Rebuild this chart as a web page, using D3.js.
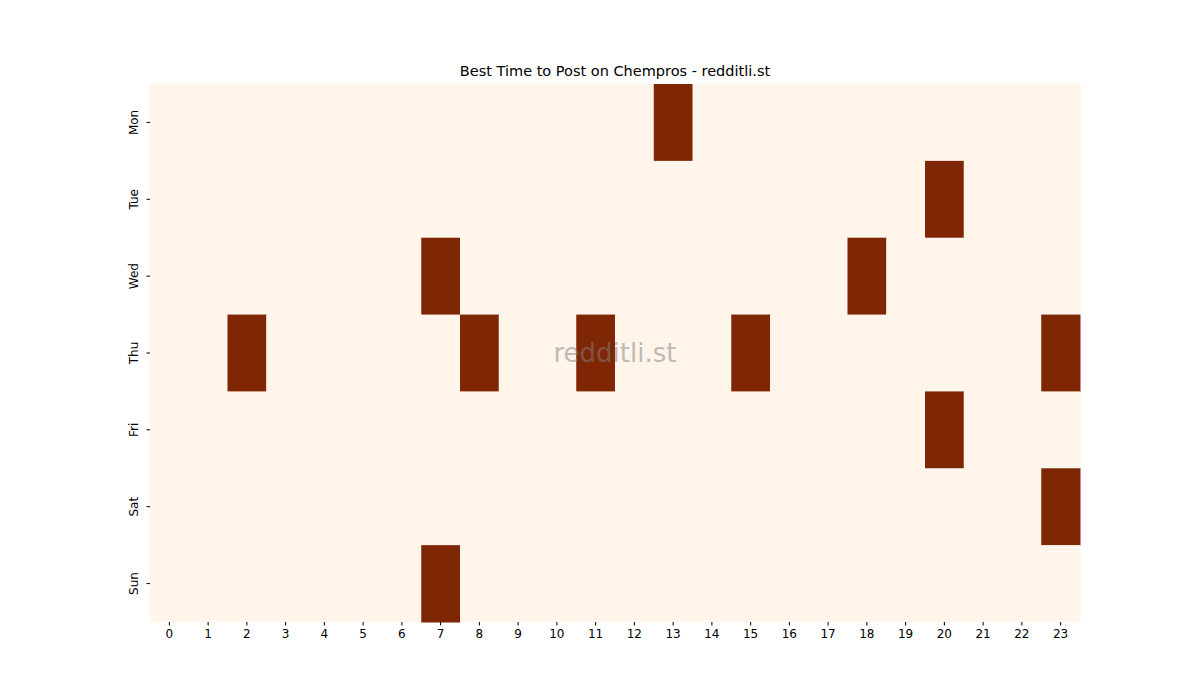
<!DOCTYPE html>
<html><head><meta charset="utf-8">
<script src="https://cdn.jsdelivr.net/npm/d3@7"></script>
<style>body{margin:0;background:#fff}text{font-family:"DejaVu Sans",sans-serif}</style>
</head><body><div id="chart"></div>
<script>
const days = ["Mon", "Tue", "Wed", "Thu", "Fri", "Sat", "Sun"];
const hours = d3.range(24);
// best hours per day (cells marked dark)
const bestHours = {
    Mon: [13],
    Tue: [20],
    Wed: [7, 18],
    Thu: [2, 8, 11, 15, 23],
    Fri: [20],
    Sat: [23],
    Sun: [7]
};

const margin = {top: 84, left: 150, right: 120, bottom: 78};
const W = 1200, H = 700;
const svg = d3.select("#chart").append("svg").attr("width", W).attr("height", H);
const x = d3.scaleBand().domain(hours).range([margin.left, W - margin.right]);
const y = d3.scaleBand().domain(days).range([margin.top, H - margin.bottom]);

const cells = [];
days.forEach(d => hours.forEach(h => cells.push({d, h, v: bestHours[d].includes(h) ? 1 : 0})));
const color = v => v ? "#7f2704" : "#fff5eb";

svg.append("g").selectAll("rect").data(cells).join("rect")
   .attr("x", c => x(c.h)).attr("y", c => y(c.d))
   .attr("width", x.bandwidth() + 0.5).attr("height", y.bandwidth() + 0.5)
   .attr("fill", c => color(c.v));

const xAxis = svg.append("g").attr("transform", `translate(0,${H - margin.bottom})`)
   .call(d3.axisBottom(x).tickSize(3.5).tickPadding(4));
const yAxis = svg.append("g").attr("transform", `translate(${margin.left},0)`)
   .call(d3.axisLeft(y).tickSize(3.5).tickPadding(4));
[xAxis, yAxis].forEach(a => {
    a.select(".domain").remove();
    a.selectAll("text").attr("font-size", 12).attr("fill", "#000")
     .attr("font-family", "DejaVu Sans");
});
yAxis.selectAll(".tick text")
     .attr("transform", "rotate(-90)")
     .attr("text-anchor", "middle").attr("x", 0).attr("y", -16).attr("dy", "0.35em");

svg.append("text").attr("x", (margin.left + W - margin.right) / 2).attr("y", 76)
   .attr("text-anchor", "middle").attr("font-size", 14.5).text("Best Time to Post on Chempros - redditli.st");

svg.append("text").attr("x", (margin.left + W - margin.right) / 2).attr("y", 362)
   .attr("text-anchor", "middle").attr("font-size", 26).attr("fill", "#808080").attr("opacity", 0.5)
   .text("redditli.st");
</script></body></html>
